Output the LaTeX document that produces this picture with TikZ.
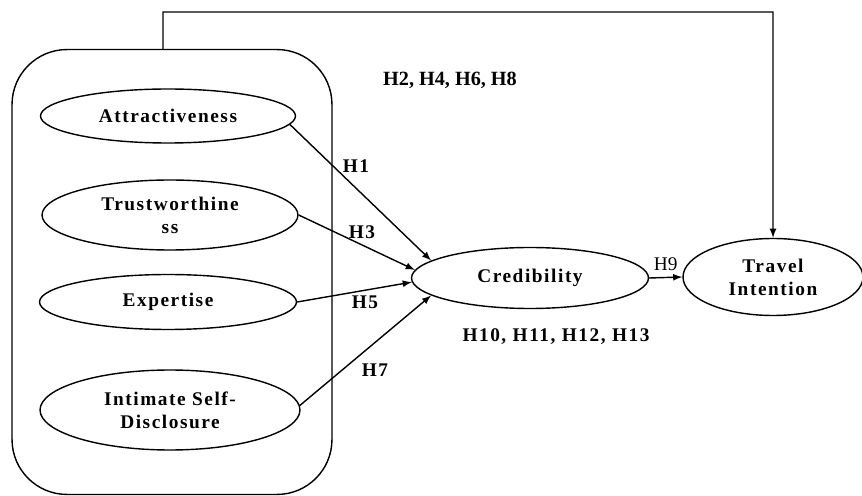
\documentclass[tikz,border=0pt]{standalone}
\usepackage{fontspec}
\setmainfont{Liberation Serif}
\newfontfamily\spaced[LetterSpace=8]{Liberation Serif}
\usetikzlibrary{arrows,shapes.geometric}

\begin{document}
\begin{tikzpicture}[
	x=0.02cm, y=-0.02cm,
	line width=0.8pt,
	construct/.style={draw, ellipse, inner sep=0pt, align=center,
		font=\fontsize{11}{13}\selectfont\spaced\bfseries},
	hyp/.style={font=\fontsize{11}{13}\selectfont\spaced\bfseries}
]
\useasboundingbox (0,0) rectangle (862,496);
%% Draw group and constructs
\node[draw, rounded corners=1.1cm, minimum width=6.4cm, minimum height=8.9cm] (group) at (172,272) {};
\node[construct, minimum width=5.1cm, minimum height=1.08cm] (attr) at (168,116) {Attractiveness};
\node[construct, minimum width=5.12cm, minimum height=1.4cm] (trust) at (170,215) {Trustworthine\\ss};
\node[construct, minimum width=5.14cm, minimum height=1.1cm] (expert) at (168,302) {Expertise};
\node[construct, minimum width=5.2cm, minimum height=1.6cm] (isd) at (170,410) {Intimate Self-\\Disclosure};
\node[construct, minimum width=4.74cm, minimum height=1.22cm] (cred) at (530,278) {Credibility};
\node[construct, minimum width=3.6cm, minimum height=1.54cm] (travel) at (773,277) {Travel\\Intention};
\coordinate (top) at (163,12);

%% Draw edges
\path[update/.style={-latex}]
	(attr.-4) edge [update] (cred.170)
	(trust.east) edge [update] (cred.176)
	(expert.east) edge [update] (cred.182)
	(isd.2) edge [update] (cred.190)
	(cred.east) edge [update] node[above, font=\fontsize{11}{13}\selectfont] {H9} (travel.west)
	;
\draw[-latex] ([xshift=-0.18cm]group.north) -- (top) -| (travel.north);

%% Hypothesis labels
\node[font=\fontsize{11.5}{13}\selectfont\bfseries] (h2) at (450,80) {H2, H4, H6, H8};
\node[hyp] (h1) at (356,166) {H1};
\node[hyp] (h3) at (362,232) {H3};
\node[hyp] (h5) at (365,302) {H5};
\node[hyp] (h7) at (375,370) {H7};
\node[hyp] (h10) at (556,337) {H10, H11, H12, H13};
\end{tikzpicture}
\end{document}
